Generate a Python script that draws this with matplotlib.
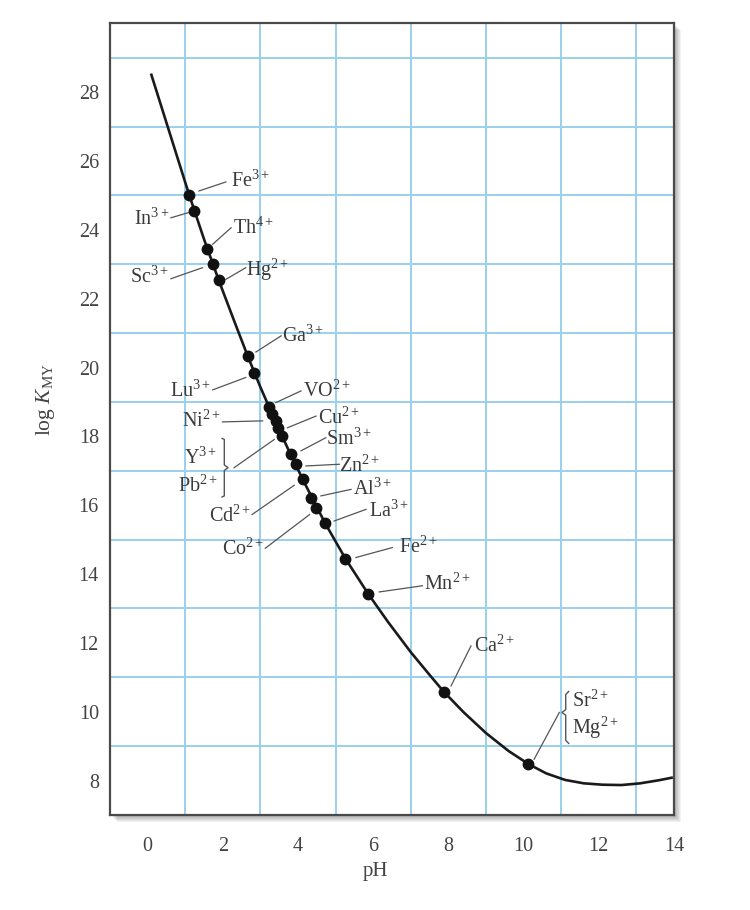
import matplotlib
matplotlib.use("Agg")
import matplotlib.pyplot as plt
from matplotlib.patches import Rectangle
from matplotlib.lines import Line2D

plt.rcParams['font.family'] = ['Liberation Serif', 'DejaVu Serif']
plt.rcParams['mathtext.fontset'] = 'custom'
plt.rcParams['mathtext.rm'] = 'Liberation Serif'
plt.rcParams['mathtext.it'] = 'Liberation Serif:italic'
plt.rcParams['mathtext.bf'] = 'Liberation Serif:bold'

# ---------------- data ----------------
# dots on the curve (lowest pH for titration, log K_MY)
ion_names = ["Fe", "In", "Th", "Sc", "Hg", "Ga", "Lu", "VO", "Ni", "Cu", "Y", "Pb",
             "Sm", "Zn", "Cd", "Al", "Co", "La", "Fe", "Mn", "Ca", "Sr/Mg"]
ion_charges = ["3+", "3+", "4+", "3+", "2+", "3+", "3+", "2+", "2+", "2+", "3+", "2+",
               "3+", "2+", "2+", "3+", "2+", "3+", "2+", "2+", "2+", "2+"]
dot_ph = [1.11, 1.24, 1.57, 1.73, 1.89, 2.66, 2.84, 3.22, 3.32, 3.41, 3.48, 3.57,
          3.81, 3.94, 4.12, 4.34, 4.49, 4.72, 5.26, 5.87, 7.87, 10.13]
dot_logk = [25.0, 24.55, 23.45, 23.0, 22.54, 20.34, 19.85, 18.86, 18.64, 18.45, 18.25, 18.01,
            17.48, 17.19, 16.75, 16.22, 15.93, 15.47, 14.45, 13.43, 10.58, 8.47]

# minimum-pH curve
curve_ph = [0.09, 0.6, 1.11, 1.5, 1.89, 2.3, 2.66, 3.0, 3.4, 3.8, 4.2, 4.72,
            5.26, 5.87, 6.4, 7.0, 7.5, 7.87, 8.4, 9.0, 9.6, 10.13, 10.6, 11.1,
            11.6, 12.1, 12.6, 13.1, 13.6, 13.97]
curve_logk = [28.54, 26.77, 25.0, 23.73, 22.54, 21.36, 20.34, 19.43, 18.43, 17.48, 16.59, 15.48,
              14.45, 13.42, 12.60, 11.73, 11.07, 10.59, 9.99, 9.38, 8.86, 8.48, 8.21, 8.02,
              7.92, 7.88, 7.87, 7.92, 8.01, 8.09]

x_ticks = [0, 2, 4, 6, 8, 10, 12, 14]
y_ticks = [8, 10, 12, 14, 16, 18, 20, 22, 24, 26, 28]
x_grid = [1, 3, 5, 7, 9, 11, 13]
y_grid = [9, 11, 13, 15, 17, 19, 21, 23, 25, 27, 29]

# label layout: (text, charge, text x, text y, ha, leader start, leader end)
labels = [
    ("Fe", "3+", 2.22, 25.42, "left", (1.37, 25.13), (2.08, 25.39)),
    ("In", "3+", 0.57, 24.30, "right", (0.62, 24.35), (1.15, 24.52)),
    ("Th", "4+", 2.26, 24.06, "left", (1.73, 23.58), (2.22, 24.06)),
    ("Sc", "3+", 0.57, 22.61, "right", (0.62, 22.58), (1.46, 22.90)),
    ("Hg", "2+", 2.61, 22.85, "left", (2.08, 22.56), (2.61, 22.90)),
    ("Ga", "3+", 3.57, 20.92, "left", (2.88, 20.45), (3.55, 20.92)),
    ("Lu", "3+", 1.68, 19.32, "right", (1.73, 19.35), (2.61, 19.71)),
    ("VO", "2+", 4.12, 19.32, "left", (3.41, 18.98), (4.08, 19.32)),
    ("Ni", "2+", 1.95, 18.45, "right", (1.99, 18.42), (3.06, 18.45)),
    ("Cu", "2+", 4.52, 18.54, "left", (3.72, 18.25), (4.48, 18.59)),
    ("Sm", "3+", 4.74, 17.91, "left", (4.08, 17.58), (4.74, 17.96)),
    ("Y", "3+", 1.86, 17.38, "right", None, None),
    ("Pb", "2+", 1.86, 16.56, "right", (2.30, 17.09), (3.37, 17.91)),
    ("Zn", "2+", 5.10, 17.14, "left", (4.21, 17.14), (5.10, 17.19)),
    ("Al", "3+", 5.45, 16.46, "left", (4.61, 16.27), (5.41, 16.46)),
    ("La", "3+", 5.89, 15.83, "left", (4.96, 15.54), (5.81, 15.88)),
    ("Cd", "2+", 2.75, 15.69, "right", (2.78, 15.73), (3.90, 16.58)),
    ("Co", "2+", 3.10, 14.72, "right", (3.13, 14.75), (4.31, 15.73)),
    ("Fe", "2+", 6.68, 14.77, "left", (5.54, 14.48), (6.51, 14.77)),
    ("Mn", "2+", 7.36, 13.70, "left", (6.16, 13.48), (7.31, 13.66)),
    ("Ca", "2+", 8.69, 11.91, "left", (8.07, 10.75), (8.60, 11.91)),
    ("Sr", "2+", 11.30, 10.32, "left", (10.28, 8.62), (10.95, 9.98)),
    ("Mg", "2+", 11.30, 9.54, "left", None, None),
]

# ---------------- figure ----------------
W, H = 750, 910
fig = plt.figure(figsize=(W / 100, H / 100), dpi=100)
L, R, T, B = 110, 674, 23.3, 815
ax = fig.add_axes([L / W, 1 - B / H, (R - L) / W, (B - T) / H])

# drop shadow of the frame
for i in range(1, 8):
    fig.patches.append(Rectangle(((L + i) / W, 1 - (B + i) / H), (R - L) / W, (B - T) / H,
                                 transform=fig.transFigure, facecolor='#000000',
                                 alpha=0.05, edgecolor='none', zorder=-5))

ax.set_xlim(-1, 14)
ax.set_ylim(7, 30)
grid_color = '#9ad0ee'
for gx in x_grid:
    ax.axvline(gx, color=grid_color, lw=1.4, zorder=1)
for gy in y_grid:
    ax.axhline(gy, color=grid_color, lw=1.4, zorder=1)

ax.plot(curve_ph, curve_logk, color='#1a1a1a', lw=1.9, zorder=3,
        solid_joinstyle='round', solid_capstyle='butt')
ax.plot(dot_ph, dot_logk, 'o', color='#111111', ms=7.5, zorder=4)

txt_color = '#3a3a3a'
line_color = '#555555'
fs = 14.5
for name, ch, tx, ty, ha, p0, p1 in labels:
    ax.text(tx, ty, f"{name}$^{{{ch}}}$", ha=ha, va='center', fontsize=fs,
            color=txt_color, zorder=5)
    if p0 is not None:
        ax.plot([p0[0], p1[0]], [p0[1], p1[1]], color=line_color, lw=0.9, zorder=2)

# bracket joining Y3+ and Pb2+
bx, by_top, by_bot, by_mid = 2.04, 17.91, 16.27, 17.09
ax.add_line(Line2D([bx - 0.06, bx, bx, bx + 0.1, bx, bx, bx - 0.06],
                   [by_top + 0.03, by_top, by_mid + 0.08, by_mid, by_mid - 0.08, by_bot, by_bot - 0.03],
                   color=line_color, lw=1.0, zorder=2))
# brace joining Sr2+ and Mg2+
cx, cy_top, cy_bot, cy_mid = 11.12, 10.56, 9.11, 9.98
ax.add_line(Line2D([cx + 0.08, cx, cx, cx - 0.1, cx, cx, cx + 0.08],
                   [cy_top + 0.03, cy_top - 0.06, cy_mid + 0.08, cy_mid, cy_mid - 0.08, cy_bot + 0.06, cy_bot - 0.03],
                   color=line_color, lw=1.0, zorder=2))

ax.set_xticks(x_ticks)
ax.set_yticks(y_ticks)
ax.tick_params(length=0, labelsize=14.5, labelcolor='#444444')
ax.tick_params(axis='x', pad=16)
ax.tick_params(axis='y', pad=8)
for s in ax.spines.values():
    s.set_color('#4a4a4a')
    s.set_linewidth(1.6)

ax.set_xlabel("pH", fontsize=15, color='#444444')
ax.xaxis.set_label_coords(0.47, -0.059)
ax.set_ylabel(r"log $K_{\mathrm{MY}}$", fontsize=15.5, color='#444444')
ax.yaxis.set_label_coords(-0.094, 0.525)

fig.savefig("out.png", dpi=100)
